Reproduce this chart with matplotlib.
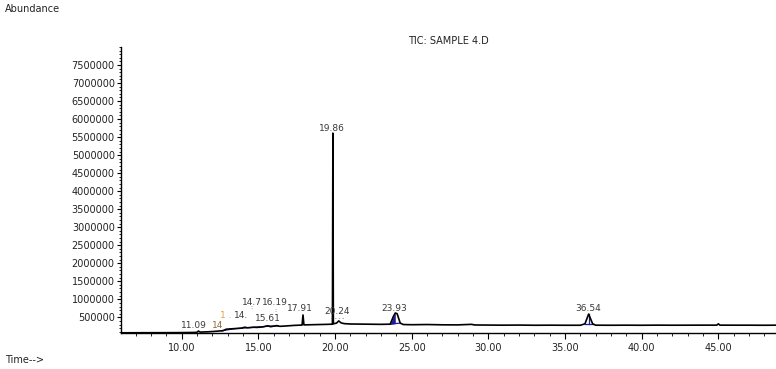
import matplotlib
matplotlib.use("Agg")
import matplotlib.pyplot as plt
from matplotlib.ticker import MultipleLocator, FixedLocator
import numpy as np

# ---- data ----
times = [6.04, 7.0, 8.0, 9.0, 10.0, 10.8, 11.0, 11.09, 11.2, 11.8, 12.3, 12.7, 12.9,
         13.2, 13.6, 13.9, 14.1, 14.3, 14.7, 14.9, 15.3, 15.61, 15.8, 16.19, 16.4,
         16.8, 17.3, 17.85, 17.91, 17.97, 18.5, 19.0, 19.5, 19.83, 19.86, 19.89, 20.1,
         20.24, 20.4, 20.6, 21.0, 22.0, 23.0, 23.6, 23.8, 23.93, 24.05, 24.25, 24.45,
         25.0, 26.0, 27.0, 28.0, 28.9, 29.1, 30.0, 31.0, 32.0, 33.0, 34.0, 35.0,
         36.0, 36.3, 36.54, 36.8, 37.0, 38.0, 39.0, 40.0, 41.0, 42.0, 43.0, 44.0,
         44.9, 45.0, 45.1, 46.0, 47.0, 48.0, 48.76]
abundance = [70000, 72000, 73000, 74000, 76000, 80000, 85000, 120000, 90000, 100000,
             115000, 130000, 170000, 180000, 190000, 200000, 225000, 210000, 225000,
             220000, 235000, 265000, 240000, 270000, 250000, 260000, 275000, 285000,
             565000, 290000, 295000, 300000, 305000, 310000, 5610000, 320000, 340000,
             400000, 345000, 325000, 315000, 310000, 305000, 310000, 520000, 620000,
             600000, 340000, 300000, 295000, 300000, 292000, 290000, 305000, 288000,
             285000, 282000, 285000, 280000, 282000, 280000, 280000, 320000, 590000,
             320000, 282000, 280000, 282000, 280000, 283000, 281000, 282000, 283000,
             283000, 320000, 283000, 282000, 282000, 280000, 282000]

peak_labels = ["11.09", "14", "1 .", "14.", "14.7", "16.19", "15.61", "17.91",
               "19.86", "20.24", "23.93", "36.54"]
label_times = [10.8, 12.37, 12.9, 13.87, 14.6, 16.1, 15.6, 17.72, 19.8, 20.14,
               23.86, 36.5]
label_heights = [286000, 286000, 560000, 564000, 924000, 924000, 480000, 758000,
                 5750000, 675000, 758000, 758000]
label_colors = ["#3a3a3a", "#8a6a3a", "#e8a040", "#3a3a3a", "#3a3a3a", "#3a3a3a",
                "#3a3a3a", "#3a3a3a", "#3a3a3a", "#3a3a3a", "#3a3a3a", "#3a3a3a"]

integ_start = [12.6, 13.6, 14.6, 15.5, 23.6, 36.3]
integ_end = [13.5, 14.5, 15.4, 16.3, 24.25, 36.8]

y_ticks = [500000, 1000000, 1500000, 2000000, 2500000, 3000000, 3500000, 4000000,
           4500000, 5000000, 5500000, 6000000, 6500000, 7000000, 7500000]
x_ticks = [10, 15, 20, 25, 30, 35, 40, 45]

# ---- figure ----
fig = plt.figure(figsize=(7.76, 3.69), dpi=100)
ax = fig.add_axes([121/776, (369-333)/369, 655/776, (333-47)/369])

t = np.array(times)
a = np.array(abundance)
ax.plot(t, a, color="black", lw=1.2, zorder=3)

navy = "#1c1c9a"
for s, e in zip(integ_start, integ_end):
    ys, ye = np.interp(s, t, a), np.interp(e, t, a)
    ax.plot([s, e], [ys, ye], color=navy, lw=0.9, zorder=2)
# shaded integration of 23.93 peak
m = (t >= integ_start[4]) & (t <= 23.95)
ax.fill_between(t[m], np.interp(t[m], [integ_start[4], integ_end[4]],
                                [np.interp(integ_start[4], t, a), np.interp(integ_end[4], t, a)]),
                a[m], color=navy, lw=0, zorder=2)
# drop line at 36.54 apex
ax.plot([36.54, 36.54], [np.interp(36.54, [integ_start[5], integ_end[5]],
                                   [np.interp(integ_start[5], t, a), np.interp(integ_end[5], t, a)]),
                         590000], color=navy, lw=0.9, zorder=2)

for lab, lt, lh, lc in zip(peak_labels, label_times, label_heights, label_colors):
    ax.text(lt, lh, lab, ha="center", va="center", fontsize=6.5, color=lc,
            family="DejaVu Sans", zorder=4)
ax.text(20.14, 470000, "- - - -", ha="center", va="center", fontsize=4,
        color="#3a3a8a", zorder=4)
ax.text(14.55, 760000, ":", ha="center", va="center", fontsize=4.5, color="#3a3a3a")
ax.text(16.1, 700000, ":", ha="center", va="center", fontsize=4.5, color="#3a3a3a")

ax.set_xlim(6.04, 48.76)
ax.set_ylim(65000, 8000000)

for sp in ["top", "right"]:
    ax.spines[sp].set_visible(False)
ax.spines["left"].set_linewidth(1.0)
ax.spines["bottom"].set_linewidth(1.0)

ax.yaxis.set_major_locator(FixedLocator(y_ticks))
ax.yaxis.set_minor_locator(MultipleLocator(100000))
ax.set_yticklabels([str(v) for v in y_ticks])
ax.xaxis.set_major_locator(FixedLocator(x_ticks))
ax.xaxis.set_minor_locator(MultipleLocator(1))
ax.set_xticklabels([f"{v:.2f}" for v in x_ticks])

ax.tick_params(axis="y", which="major", length=3, width=0.8, pad=1.5,
               labelsize=7, labelcolor="#222222")
ax.tick_params(axis="y", which="minor", length=1.5, width=0.6)
ax.tick_params(axis="x", which="major", length=4, width=0.8, pad=3,
               labelsize=7, labelcolor="#222222")
ax.tick_params(axis="x", which="minor", length=2.5, width=0.6)

ax.set_title("TIC: SAMPLE 4.D", fontsize=7, pad=2.5, color="#222222")
fig.text(5/776, 1 - 9/369, "Abundance", fontsize=7, ha="left", va="center",
         color="#222222")
fig.text(5/776, 1 - 360/369, "Time-->", fontsize=7, ha="left", va="center",
         color="#222222")

fig.savefig("out.png", dpi=100)
